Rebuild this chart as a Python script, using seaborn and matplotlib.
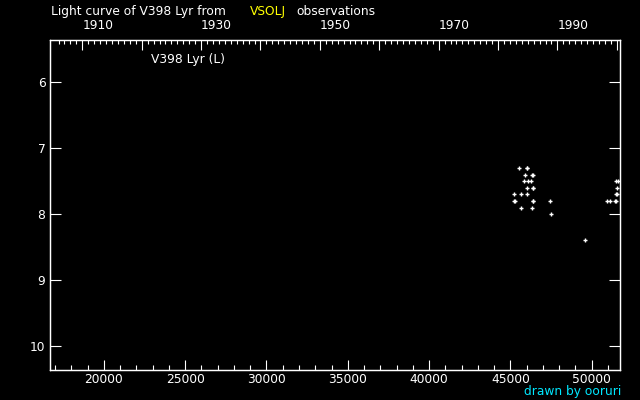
import datetime as dt
import matplotlib
matplotlib.use("Agg")
import matplotlib.pyplot as plt
import numpy as np
import pandas as pd
import seaborn as sns
from matplotlib.ticker import FixedLocator, MultipleLocator, StrMethodFormatter

# ---- data: JD - 2400000 and visual magnitude ----
jd = [45548, 46000, 46050,
      45917, 46300, 46360,
      45856, 46100, 46287, 51476, 51599,
      46022, 46360, 46420, 51580,
      45240, 45671, 46022, 51476, 51556,
      45250, 45310, 46360, 46420, 47454, 50960, 51126, 51415, 51513,
      45671, 46348,
      47516,
      49607]
mag = [7.3, 7.3, 7.3,
       7.4, 7.4, 7.4,
       7.5, 7.5, 7.5, 7.5, 7.5,
       7.6, 7.6, 7.6, 7.6,
       7.7, 7.7, 7.7, 7.7, 7.7,
       7.8, 7.8, 7.8, 7.8, 7.8, 7.8, 7.8, 7.8, 7.8,
       7.9, 7.9,
       8.0,
       8.4]

y_ticks = [6, 7, 8, 9, 10]
y_labels = ["6", "7", "8", "9", "10"]
year_major = [1910, 1920, 1930, 1940, 1950, 1960, 1970, 1980, 1990, 2000]
year_labels = ["1910", "", "1930", "", "1950", "", "1970", "", "1990", ""]
year_minor = list(range(1906, 2002))

title_left = "Light curve of V398 Lyr from"
title_mid = "VSOLJ"
title_right = "observations"
star_label = "V398 Lyr (L)"
credit = "drawn by ooruri"

FS = 8.8


def year_to_jd(y):
    return (dt.date(y, 1, 1) - dt.date(1858, 11, 17)).days + 0.5


sns.set_style("dark", {
    "axes.facecolor": "black",
    "figure.facecolor": "black",
    "axes.edgecolor": "white",
    "xtick.color": "white",
    "ytick.color": "white",
    "text.color": "white",
    "axes.grid": False,
})
plt.rcParams["font.family"] = ["DejaVu Sans"]

fig = plt.figure(figsize=(6.4, 4), dpi=100)
fig.patch.set_facecolor("black")
ax = fig.add_axes([0.0786, 0.0743, 0.8906, 0.825])

df = pd.DataFrame({"jd": jd, "mag": mag})
sns.scatterplot(data=df, x="jd", y="mag", marker="+", color="white",
                s=11, linewidth=1.0, ax=ax, legend=False)

ax.set_xlim(16704, 51759)
ax.set_ylim(10.369, 5.363)
ax.set_xlabel("")
ax.set_ylabel("")

ax.xaxis.set_major_locator(MultipleLocator(5000))
ax.xaxis.set_minor_locator(MultipleLocator(1000))
ax.xaxis.set_major_formatter(StrMethodFormatter("{x:.0f}"))
ax.yaxis.set_major_locator(FixedLocator(y_ticks))
ax.set_yticklabels(y_labels)

ax.tick_params(axis="x", which="major", direction="in", length=7.5, width=0.8,
               colors="white", labelsize=FS, pad=2.0, top=False, bottom=True)
ax.tick_params(axis="x", which="minor", direction="in", length=3.6, width=0.8,
               colors="white", top=False, bottom=True)
ax.tick_params(axis="y", which="major", direction="in", length=7.7, width=0.8,
               colors="white", labelsize=FS, pad=3.5, left=True, right=True)
ax.tick_params(axis="y", which="minor", left=False, right=False)
for s in ax.spines.values():
    s.set_color("white")
    s.set_linewidth(0.9)

ax2 = ax.twiny()
ax2.set_xlim(ax.get_xlim())
ax2.xaxis.set_major_locator(FixedLocator([year_to_jd(y) for y in year_major]))
ax2.xaxis.set_minor_locator(FixedLocator(
    [year_to_jd(y) for y in year_minor if y not in year_major]))
ax2.set_xticklabels(year_labels, ha="left")
ax2.tick_params(axis="x", which="major", direction="in", length=7.5, width=0.8,
                colors="white", labelsize=FS, pad=6)
ax2.tick_params(axis="x", which="minor", direction="in", length=3.0, width=0.8,
                colors="white")
for s in ax2.spines.values():
    s.set_color("white")
    s.set_linewidth(0.9)

ax.text(0.176, 0.93, star_label, transform=ax.transAxes, color="white",
        fontsize=FS, ha="left", va="baseline")

fig.text(0.0792, 0.9625, title_left, color="white", fontsize=FS,
         ha="left", va="baseline")
fig.text(0.3906, 0.9625, title_mid, color="#ffff00", fontsize=FS,
         ha="left", va="baseline")
fig.text(0.4625, 0.9625, title_right, color="white", fontsize=FS,
         ha="left", va="baseline")
fig.text(0.970, 0.0125, credit, color="#00e8ff", fontsize=FS,
         ha="right", va="baseline")

fig.savefig("out.png", dpi=100, facecolor="black")
